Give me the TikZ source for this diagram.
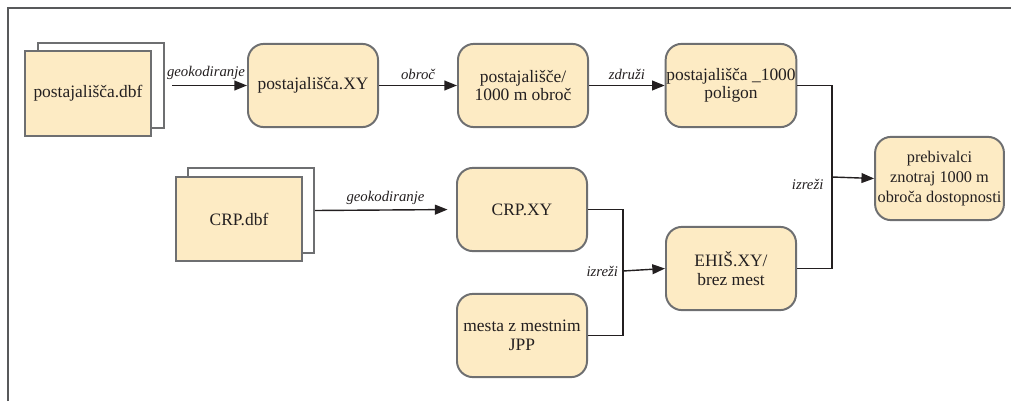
\documentclass[tikz,border=0pt]{standalone}
\usepackage{fontspec}
\setmainfont{Liberation Serif}
\usetikzlibrary{arrows.meta}

\definecolor{boxfill}{RGB}{253,235,196}
\definecolor{boxline}{RGB}{110,111,113}
\definecolor{inkline}{RGB}{35,31,32}

\tikzset{
  procbox/.style={draw=boxline, fill=boxfill, line width=1.4pt, rounded corners=0.4cm,
    minimum width=3.25cm, minimum height=2.08cm, align=center, inner sep=0.5pt,
    text=inkline, font=\fontsize{12.4}{13.2}\selectfont},
  sheetback/.style={draw=boxline, fill=white, line width=1.4pt,
    minimum width=3.15cm, minimum height=2.12cm},
  sheetfront/.style={draw=boxline, fill=boxfill, line width=1.4pt,
    minimum width=3.15cm, minimum height=2.12cm, text=inkline,
    font=\fontsize{12.4}{13.2}\selectfont},
  flowarrow/.style={draw=inkline, line width=1pt, -{Triangle[length=9pt,width=7pt]}},
  flowline/.style={draw=inkline, line width=1pt},
  steplabel/.style={text=inkline, font=\fontsize{10.5}{12}\selectfont\itshape}
}

\begin{document}
\begin{tikzpicture}[x=0.025cm, y=-0.025cm]
\useasboundingbox (0,0) rectangle (1011,401);
\draw[boxline!80!black, line width=1.4pt] (8,401) -- (8,8) -- (1011,8);

% source tables
\node[sheetback] (stopback) at (101,85.5) {};
\node[sheetfront] (stopdbf) at (88,93.5) {postajališča.dbf};
\node[sheetback] (crpback) at (251,210.5) {};
\node[sheetfront] (crpdbf) at (239,219) {CRP.dbf};

% processing steps
\node[procbox] (stopxy) at (313,85.5) {postajališča.XY};
\node[procbox] (buffer) at (523,85.5) {postajališče/\\1000 m obroč};
\node[procbox] (polygon) at (731,85.5) {postajališča \_1000\\poligon};
\node[procbox] (crpxy) at (522,209.5) {CRP.XY};
\node[procbox] (towns) at (522,335.5) {mesta z mestnim\\JPP};
\node[procbox] (ehis) at (731,268.5) {EHIŠ.XY/\\brez mest};
\node[procbox, minimum width=3.22cm, font=\fontsize{11.6}{14}\selectfont] (result) at (939.5,178.5) {prebivalci\\znotraj 1000 m\\obroča dostopnosti};

\coordinate (cutlow) at (623,271);
\coordinate (cuthigh) at (832,177);

% connectors
\draw[flowarrow, shorten <=5pt] (stopback.east) -- node[steplabel, above] {geokodiranje} (stopxy.west);
\draw[flowarrow] (stopxy.east) -- node[steplabel, above] {obroč} (buffer.west);
\draw[flowarrow] (buffer.east) -- node[steplabel, above] {združi} (polygon.west);
\draw[flowarrow, shorten >=6pt] (crpback.east) -- node[steplabel, above] {geokodiranje} (crpxy.west);

\draw[flowline] (crpxy.east) -| (cutlow) |- (towns.east);
\draw[flowarrow] (cutlow) -- (ehis.west);
\node[steplabel, anchor=east] (cutlabellow) at (cutlow) {izreži~};

\draw[flowline] (polygon.east) -| (cuthigh) |- (ehis.east);
\draw[flowarrow] (cuthigh) -- (result.west);
\node[steplabel, anchor=east] (cutlabelhigh) at ([yshift=-5]cuthigh) {izreži~~};
\end{tikzpicture}
\end{document}
